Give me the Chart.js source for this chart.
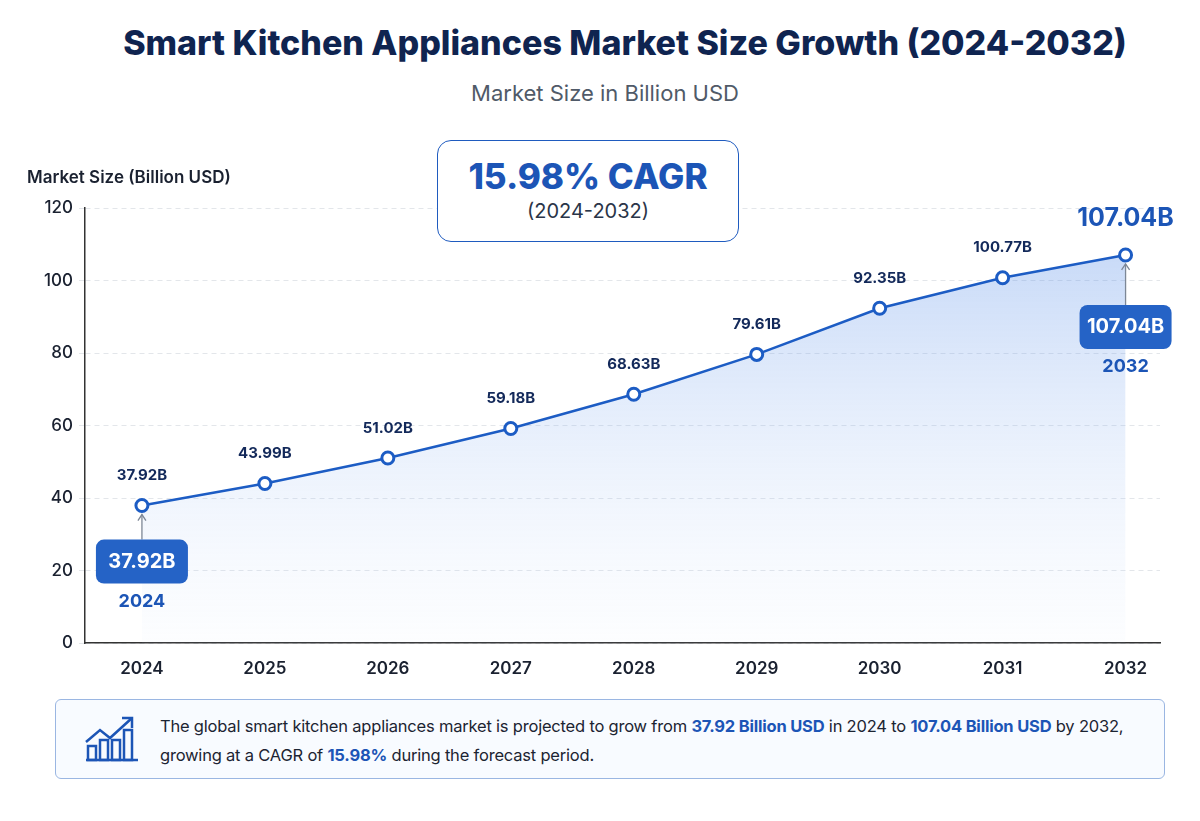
<!DOCTYPE html>
<html><head><meta charset="utf-8">
<script src="https://cdn.jsdelivr.net/npm/chart.js@4"></script>
<style>
body{margin:0;width:1200px;height:821px;background:#fff;font-family:Inter,"Noto Sans",sans-serif;position:relative;overflow:hidden}
#title{position:absolute;top:22px;left:0;width:1250px;text-align:center;font-size:34px;font-weight:800;color:#0f2450}
#sub{position:absolute;top:80px;left:0;width:1210px;text-align:center;font-size:22px;color:#505a68}
#cagr{position:absolute;left:437px;top:140px;width:302px;height:102px;border:1.5px solid #1f5bbf;border-radius:14px;text-align:center;background:#fff;box-sizing:border-box;z-index:2}
#cagr .a{font-size:35px;font-weight:800;color:#1c55b6;margin-top:14px}
#cagr .b{font-size:20px;color:#2a3548;margin-top:2px}
#yt{position:absolute;left:27px;top:167px;font-size:17px;font-weight:600;color:#1a2130}
#c{position:absolute;left:0;top:0}
#info{position:absolute;left:55px;top:699px;width:1110px;height:80px;border:1.5px solid #9ab6e2;border-radius:6px;background:#f8fbff;box-sizing:border-box}
#info svg{position:absolute;left:28px;top:14px}
#info .t{position:absolute;left:104px;top:12px;font-size:16.5px;line-height:29px;color:#1c2432;white-space:nowrap;letter-spacing:-0.2px}
#info b{color:#1c55b6;font-weight:700}
</style></head><body>
<div id="title">Smart Kitchen Appliances Market Size Growth (2024-2032)</div>
<div id="sub">Market Size in Billion USD</div>
<canvas id="c" width="1200" height="690"></canvas>
<div id="yt">Market Size (Billion USD)</div>
<div id="cagr"><div class="a">15.98% CAGR</div><div class="b">(2024-2032)</div></div>
<div id="info">
<svg width="56" height="50" viewBox="0 0 56 50" fill="none" stroke="#1c55b6" stroke-width="2.5">
<path d="M2 46H54"/><rect x="4" y="32" width="8" height="14"/><rect x="16" y="26" width="8" height="20"/><rect x="28" y="26" width="8" height="20"/><rect x="40" y="16" width="8" height="30"/>
<path d="M2 28L16 16L26 24L48 4"/><path d="M38 4H48V14"/></svg>
<div class="t">The global smart kitchen appliances market is projected to grow from <b>37.92 Billion USD</b> in 2024 to <b>107.04 Billion USD</b> by 2032,<br>growing at a CAGR of <b>15.98%</b> during the forecast period.</div>
</div>
<script>
const years=[2024,2025,2026,2027,2028,2029,2030,2031,2032];
const values=[37.92,43.99,51.02,59.18,68.63,79.61,92.35,100.77,107.04];
const labels=["37.92B","43.99B","51.02B","59.18B","68.63B","79.61B","92.35B","100.77B","107.04B"];
const yTicks=[0,20,40,60,80,100,120];
const ctx=document.getElementById('c').getContext('2d');
function rr(c,x,y,w,h,r){c.beginPath();c.roundRect(x,y,w,h,r);}
const deco={id:'deco',afterDatasetsDraw(ch){
 const c=ch.ctx,xs=ch.scales.x,ys=ch.scales.y;
 c.save();c.textAlign='center';c.textBaseline='middle';
 values.forEach((v,i)=>{
  const px=xs.getPixelForValue(years[i]),py=ys.getPixelForValue(v);
  if(i===8){c.fillStyle='#1c55b6';c.font='bold 25px Inter';c.fillText(labels[i],px,py-36);}
  else{c.fillStyle='#13295a';c.font='bold 15px Inter';c.fillText(labels[i],px,py-30);}
 });
 const call=(i,dy)=>{
  const px=xs.getPixelForValue(years[i]),py=ys.getPixelForValue(values[i]);
  const by=py+dy;
  c.strokeStyle='#7d8796';c.lineWidth=1.3;c.beginPath();c.moveTo(px,by-22);c.lineTo(px,py+9);c.stroke();
  c.beginPath();c.moveTo(px-4,py+15);c.lineTo(px,py+9);c.lineTo(px+4,py+15);c.stroke();
  c.fillStyle='#2563c6';rr(c,px-46,by-22,92,44,8);c.fill();
  c.fillStyle='#fff';c.font='bold 20px Inter';c.fillText(labels[i],px,by);
  c.fillStyle='#1c55b6';c.font='bold 18px Inter';c.fillText(String(years[i]),px,by+40);
 };
 call(0,56);call(8,72);
 c.restore();
}};
new Chart(ctx,{type:'line',
 data:{datasets:[{data:years.map((y,i)=>({x:y,y:values[i]})),borderColor:'#1c5cc4',borderWidth:2.5,tension:0,
  pointRadius:6,pointBorderWidth:3,pointBackgroundColor:'#fff',pointBorderColor:'#1c5cc4',
  fill:'origin',backgroundColor:(cx)=>{const a=cx.chart.chartArea;if(!a)return 'rgba(80,140,230,0.2)';
   const g=cx.chart.ctx.createLinearGradient(0,a.top,0,a.bottom);g.addColorStop(0,'rgba(70,130,230,0.35)');g.addColorStop(1,'rgba(200,220,250,0.05)');return g;}}]},
 options:{responsive:false,animation:false,layout:{padding:{top:208,right:40,left:0,bottom:0}},
  plugins:{legend:{display:false},tooltip:{enabled:false}},
  scales:{
   x:{type:'linear',min:2023.537,max:2032.28,afterBuildTicks:s=>{s.ticks=years.map(v=>({value:v}));},
    afterFit:s=>{s.height=47;},
    grid:{display:false,drawTicks:true},border:{color:'#333',width:1.5},
    ticks:{color:'#1a2130',font:{size:17,weight:'600',family:'Inter'},padding:8,callback:v=>String(v)}},
   y:{min:0,max:120,afterBuildTicks:s=>{s.ticks=yTicks.map(v=>({value:v}));},afterFit:s=>{s.width=85;},
    grid:{color:'#e3e6ea',tickLength:6,drawTicks:true},border:{color:'#333',width:1.5,dash:[5,4]},
    ticks:{color:'#1a2130',font:{size:17,weight:'500',family:'Inter'},padding:6}}
  }},plugins:[deco]});
</script></body></html>
